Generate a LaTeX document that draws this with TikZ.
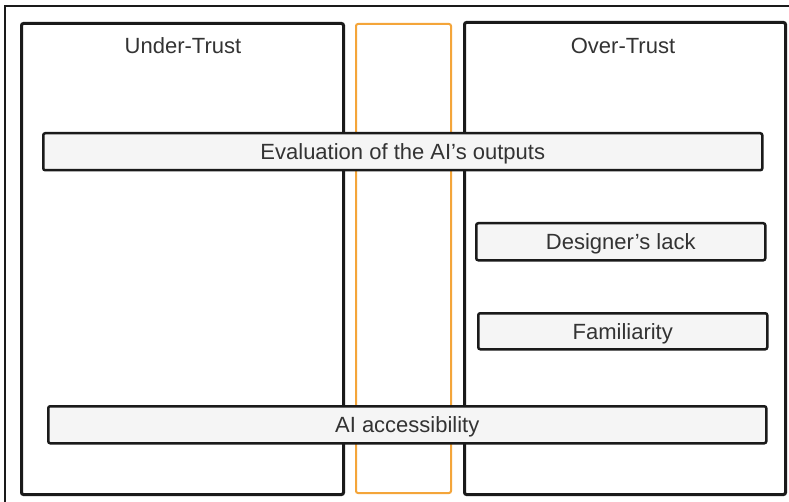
\documentclass[tikz,border=0pt]{standalone}
\usepackage{fontspec}
\setmainfont{Liberation Sans}
\definecolor{boxfill}{HTML}{F5F5F5}
\definecolor{txt}{HTML}{333333}
\definecolor{edge}{HTML}{1A1A1A}
\definecolor{midorange}{HTML}{F4A53A}
\tikzset{
  panel/.style={draw=edge, line width=3bp, rounded corners=2bp, anchor=north west, inner sep=0pt},
  midpanel/.style={draw=midorange, line width=2bp, rounded corners=2bp, anchor=north west, inner sep=0pt},
  factor/.style={draw=edge, fill=boxfill, line width=2.5bp, rounded corners=2bp, anchor=north west,
    inner sep=0pt, text=txt, font=\fontsize{22bp}{26bp}\selectfont, text height=15.75bp, text depth=0pt},
  title/.style={text=txt, font=\fontsize{22bp}{26bp}\selectfont, anchor=base, inner sep=0pt}
}
\begin{document}
\begin{tikzpicture}[x=1bp,y=-1bp]
\useasboundingbox (0,0) rectangle (789,502);
\clip (0,0) rectangle (789,502);
\fill[white] (0,0) rectangle (789,502);
% outer frame (cropped at right and bottom)
\coordinate (fb) at (5,520);
\coordinate (fc) at (5,6);
\coordinate (fr) at (810,6);
\draw[edge, line width=2bp] (fb) -- (fc) -- (fr);
% panels
\node[panel, minimum width=322bp, minimum height=471bp] (under) at (20,22) {};
\node[midpanel, minimum width=95bp, minimum height=469bp] (mid) at (355,23) {};
\node[panel, minimum width=321bp, minimum height=472bp] (over) at (463,21) {};
\node[title] (undert) at (183,54) {Under-Trust};
\node[title] (overt) at (623,54) {Over-Trust};
% factor boxes
\node[factor, minimum width=719bp, minimum height=37bp] (eval) at (42,132) {Evaluation of the AI’s outputs};
\node[factor, minimum width=289bp, minimum height=37bp] (design) at (475,222) {Designer’s lack};
\node[factor, minimum width=289bp, minimum height=36bp] (famil) at (477,312) {Familiarity};
\node[factor, minimum width=718bp, minimum height=37bp] (access) at (47,405) {AI accessibility};
\end{tikzpicture}
\end{document}
